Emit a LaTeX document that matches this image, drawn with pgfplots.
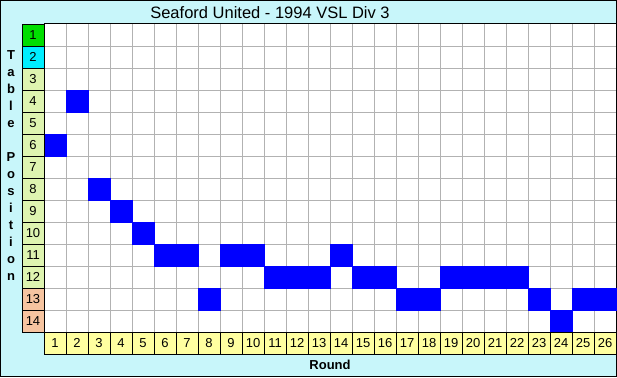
\documentclass[border=0pt]{standalone}
\usepackage{pgfplots}
\pgfplotsset{compat=1.18}
\usepackage{fontspec}
\setmainfont{Liberation Sans}
\definecolor{bgc}{RGB}{200,246,250}
\definecolor{gridc}{RGB}{178,178,178}
\definecolor{cgreen}{RGB}{0,222,0}
\definecolor{ccyan}{RGB}{0,238,255}
\definecolor{clime}{RGB}{222,244,176}
\definecolor{cpeach}{RGB}{246,196,160}
\definecolor{cyell}{RGB}{255,255,160}
\definecolor{cblue}{RGB}{0,0,255}
\begin{document}
\begin{tikzpicture}[x=1pt,y=1pt]
\fill[bgc] (0,0) rectangle (617,377);
\draw[line width=1pt] (0.5,0.5) rectangle (616.5,376.5);
\begin{axis}[
  at={(44pt,45pt)}, anchor=south west,
  scale only axis, width=572pt, height=308pt,
  xmin=0.5, xmax=26.5, ymin=0.5, ymax=14.5, y dir=reverse,
  xtick={1.5,2.5,...,25.5}, ytick={1.5,2.5,...,13.5},
  xticklabels={}, yticklabels={},
  major tick length=0pt,
  grid=major, major grid style={gridc, line width=0.8pt},
  axis line style={black, line width=1pt},
  clip=false,
  axis background/.style={fill=white},
  /pgf/number format/assume math mode=true,
  nodes near coords={\fontsize{13}{15}\selectfont\pgfmathprintnumber{\pgfplotspointmeta}},
  nodes near coords style={anchor=center, text=black, inner sep=0pt},
]
\addplot[only marks, mark=square*, mark size=11pt, mark options={draw=cblue, line width=0.6pt, fill=cblue}, nodes near coords={}] table {
x y
1 6
2 4
3 8
4 9
5 10
6 11
7 11
8 13
9 11
10 11
11 12
12 12
13 12
14 11
15 12
16 12
17 13
18 13
19 12
20 12
21 12
22 12
23 13
24 14
25 13
26 13
};
\addplot[only marks, mark=square*, mark size=11pt, mark options={draw=black, line width=0.8pt, fill=cgreen}, point meta=y] table {
x y
0 1
};
\addplot[only marks, mark=square*, mark size=11pt, mark options={draw=black, line width=0.8pt, fill=ccyan}, point meta=y] table {
x y
0 2
};
\addplot[only marks, mark=square*, mark size=11pt, mark options={draw=black, line width=0.8pt, fill=clime}, point meta=y] table {
x y
0 3
0 4
0 5
0 6
0 7
0 8
0 9
0 10
0 11
0 12
};
\addplot[only marks, mark=square*, mark size=11pt, mark options={draw=black, line width=0.8pt, fill=cpeach}, point meta=y] table {
x y
0 13
0 14
};
\addplot[only marks, mark=square*, mark size=11pt, mark options={draw=black, line width=0.8pt, fill=cyell}, point meta=x] table {
x y
1 15
2 15
3 15
4 15
5 15
6 15
7 15
8 15
9 15
10 15
11 15
12 15
13 15
14 15
15 15
16 15
17 15
18 15
19 15
20 15
21 15
22 15
23 15
24 15
25 15
26 15
};
\end{axis}
\node[font=\fontsize{16.5}{20}\selectfont] at (270,364.5) {Seaford United - 1994 VSL Div 3};
\node[font=\bfseries\fontsize{13}{17}\selectfont, align=center, inner sep=0pt] at (11,211) {T\\a\\b\\l\\e\\\mbox{}\\P\\o\\s\\i\\t\\i\\o\\n};
\node[font=\bfseries\fontsize{13}{15}\selectfont] at (330,12) {Round};
\end{tikzpicture}
\end{document}
